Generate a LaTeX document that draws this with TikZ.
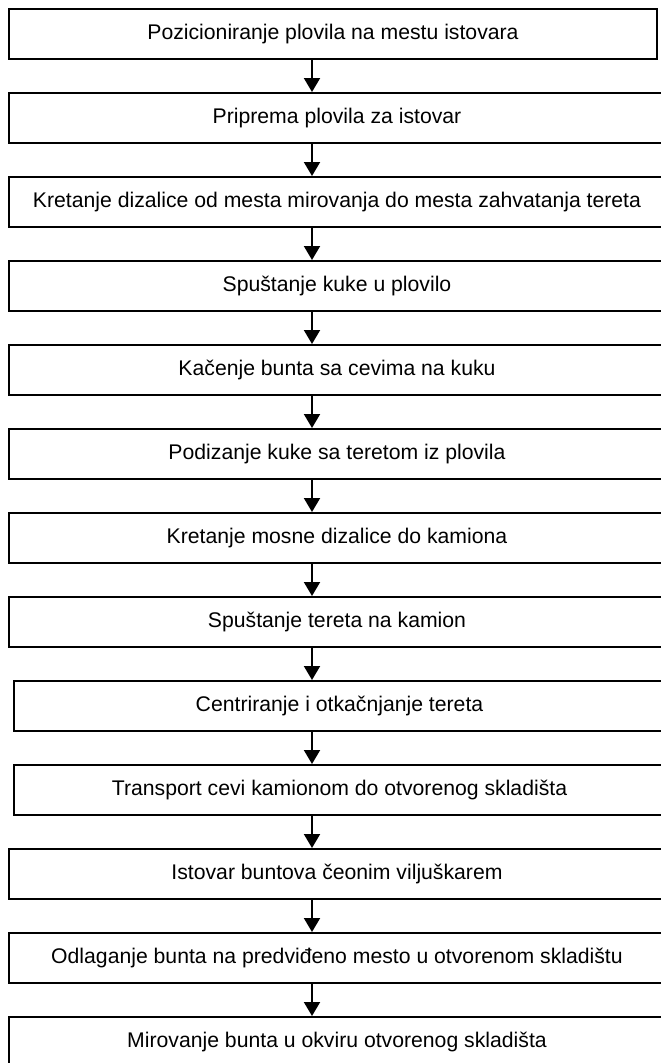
\documentclass[tikz,border=0pt]{standalone}
\usepackage{fontspec}
\setmainfont{Liberation Sans}
\usetikzlibrary{arrows.meta}
\tikzset{
  korak/.style={draw, line width=2pt, inner sep=0pt, minimum height=50pt,
    font=\fontsize{21.2}{25}\selectfont},
  strelica/.style={line width=2pt, -{Triangle[width=16pt,length=14pt]}}
}
\begin{document}
\begin{tikzpicture}[x=1pt,y=-1pt]
\useasboundingbox (0,0) rectangle (661,1063);
\node[korak, minimum width=648pt] (b1) at (333,34) {Pozicioniranje plovila na mestu istovara};
\node[korak, minimum width=656pt] (b2) at (337,118) {Priprema plovila za istovar};
\node[korak, minimum width=656pt] (b3) at (337,202) {Kretanje dizalice od mesta mirovanja do mesta zahvatanja tereta};
\node[korak, minimum width=656pt] (b4) at (337,286) {Spuštanje kuke u plovilo};
\node[korak, minimum width=656pt] (b5) at (337,370) {Kačenje bunta sa cevima na kuku};
\node[korak, minimum width=656pt] (b6) at (337,454) {Podizanje kuke sa teretom iz plovila};
\node[korak, minimum width=656pt] (b7) at (337,538) {Kretanje mosne dizalice do kamiona};
\node[korak, minimum width=656pt] (b8) at (337,622) {Spuštanje tereta na kamion};
\node[korak, minimum width=651pt] (b9) at (339.5,706) {Centriranje i otkačnjanje tereta};
\node[korak, minimum width=651pt] (b10) at (339.5,790) {Transport cevi kamionom do otvorenog skladišta};
\node[korak, minimum width=656pt] (b11) at (337,874) {Istovar buntova čeonim viljuškarem};
\node[korak, minimum width=656pt] (b12) at (337,958) {Odlaganje bunta na predviđeno mesto u otvorenom skladištu};
\node[korak, minimum width=656pt] (b13) at (337,1042) {Mirovanje bunta u okviru otvorenog skladišta};
\coordinate (ax) at (312,0);
\foreach \i [evaluate=\i as \j using int(\i+1)] in {1,...,12}
  \draw[strelica] (b\i.south -| ax) -- (b\j.north -| ax);
\end{tikzpicture}
\end{document}
